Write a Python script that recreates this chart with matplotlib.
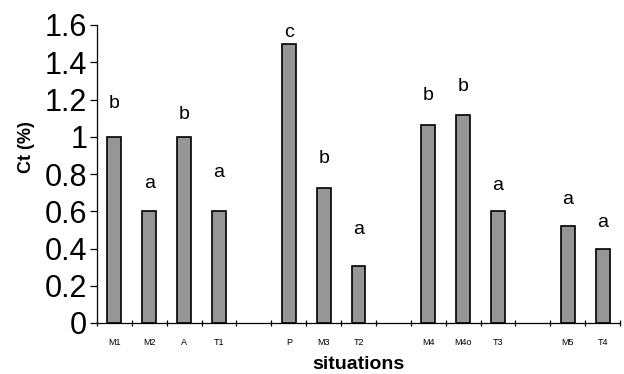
import matplotlib
matplotlib.use("Agg")
import matplotlib.pyplot as plt
import numpy as np

plt.rcParams['font.family'] = ['Liberation Sans', 'DejaVu Sans']

categories = ["M1", "M2", "A", "T1", "", "P", "M3", "T2", "", "M4", "M4o", "T3", "", "M5", "T4"]
values = [1.0, 0.6, 1.0, 0.6, None, 1.5, 0.725, 0.305, None, 1.065, 1.115, 0.6, None, 0.52, 0.40]
letters = ["b", "a", "b", "a", "", "c", "b", "a", "", "b", "b", "a", "", "a", "a"]
letter_y = [1.18, 0.75, 1.12, 0.81, None, 1.56, 0.885, 0.50, None, 1.22, 1.27, 0.74, None, 0.665, 0.54]
yticks = [0, 0.2, 0.4, 0.6, 0.8, 1, 1.2, 1.4, 1.6]
ytick_labels = ["0", "0.2", "0.4", "0.6", "0.8", "1", "1.2", "1.4", "1.6"]

fig = plt.figure(figsize=(6.24, 3.74), dpi=100)
ax = fig.add_axes([97/624, 51/374, 523/624, 298/374])

x = np.arange(len(categories))
for xi, v in zip(x, values):
    if v is not None:
        ax.bar(xi, v, width=0.4, color="#969696", edgecolor="black", linewidth=1.2, zorder=2)
for xi, l, ly in zip(x, letters, letter_y):
    if l:
        ax.text(xi, ly, l, ha="center", va="center", fontsize=14)

ax.set_xlim(-0.5, len(categories) - 0.5)
ax.set_ylim(0, 1.6)
ax.set_yticks(yticks)
ax.set_yticklabels(ytick_labels, fontsize=22)
ax.tick_params(axis="y", direction="out", length=5, width=0.9, pad=2)

ax.set_xticks(x)
ax.set_xticklabels(categories, fontsize=6.5)
ax.tick_params(axis="x", which="major", length=0, pad=11)
ax.set_xticks(np.arange(-0.5, len(categories) + 0.5, 1.0), minor=True)
ax.tick_params(axis="x", which="minor", direction="inout", length=5, width=0.9)

for s in ["top", "right"]:
    ax.spines[s].set_visible(False)
for s in ["left", "bottom"]:
    ax.spines[s].set_linewidth(0.9)

ax.set_ylabel("Ct (%)", fontsize=13, fontweight="bold")
ax.yaxis.set_label_coords(-0.118, 0.59)
ax.set_xlabel("situations", fontsize=14, fontweight="bold")
ax.xaxis.set_label_coords(0.5, -0.112)

fig.savefig("out.png", dpi=100)
